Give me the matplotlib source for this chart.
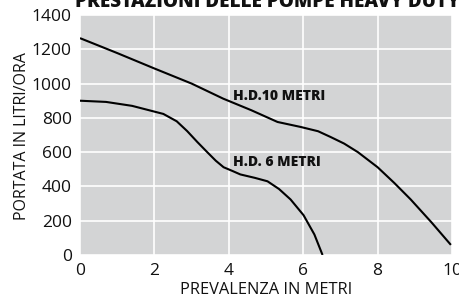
import matplotlib
matplotlib.use("Agg")
import matplotlib.pyplot as plt

plt.rcParams['font.family'] = ['Open Sans', 'DejaVu Sans']

title = "PRESTAZIONI DELLE POMPE HEAVY DUTY"
xlabel = "PREVALENZA IN METRI"
ylabel = "PORTATA IN LITRI/ORA"

hd10_x = [0.0, 1.0, 2.0, 3.0, 3.85, 4.6, 5.31, 5.93, 6.4, 6.74, 7.1, 7.47, 8.0, 8.45, 8.89, 9.45, 9.97]
hd10_y = [1265, 1178, 1088, 1000, 912, 845, 776, 747, 722, 688, 650, 600, 512, 420, 324, 190, 59]
hd10_label = "H.D.10 METRI"

hd6_x = [0.0, 0.7, 1.4, 2.24, 2.6, 2.88, 3.15, 3.42, 3.65, 3.86, 4.1, 4.31, 4.7, 5.04, 5.35, 5.66, 6.01, 6.3, 6.52]
hd6_y = [900, 893, 870, 823, 780, 723, 660, 600, 550, 512, 490, 470, 450, 430, 385, 324, 232, 120, 0]
hd6_label = "H.D. 6 METRI"

xticks = [0, 2, 4, 6, 8, 10]
yticks = [0, 200, 400, 600, 800, 1000, 1200, 1400]

fig = plt.figure(figsize=(4.59, 2.98), dpi=100)
ax = fig.add_axes([80/459, 1-255/298, 372/459, 240/298])
ax.set_facecolor('#d3d4d5')
ax.plot(hd10_x, hd10_y, color='black', lw=1.5, solid_capstyle='butt')
ax.plot(hd6_x, hd6_y, color='black', lw=1.5, solid_capstyle='butt')
ax.set_xlim(0, 10)
ax.set_ylim(0, 1400)
ax.set_xticks(xticks)
ax.set_yticks(yticks)
ax.grid(True, color='white', lw=1.2)
ax.set_axisbelow(True)
for s in ax.spines.values():
    s.set_visible(False)
ax.tick_params(length=0, labelsize=12.5, pad=6, colors='#111111')
ax.set_xlabel(xlabel, fontsize=11.8, labelpad=2, color='#111111')
ax.set_ylabel(ylabel, fontsize=11.5, color='#111111')
ax.yaxis.set_label_coords(-58/372, 0.496)
ax.yaxis.label.set_verticalalignment('center')
ax.text(4.1, 925, hd10_label, fontsize=10, fontweight='heavy', va='center', ha='left', color='#111111')
ax.text(4.1, 540, hd6_label, fontsize=10, fontweight='heavy', va='center', ha='left', color='#111111')
fig.text(267/459, 1-7/298, title, fontsize=13.6, fontweight='heavy', ha='center', va='baseline', color='#111111')
fig.savefig("out.png", dpi=100)
